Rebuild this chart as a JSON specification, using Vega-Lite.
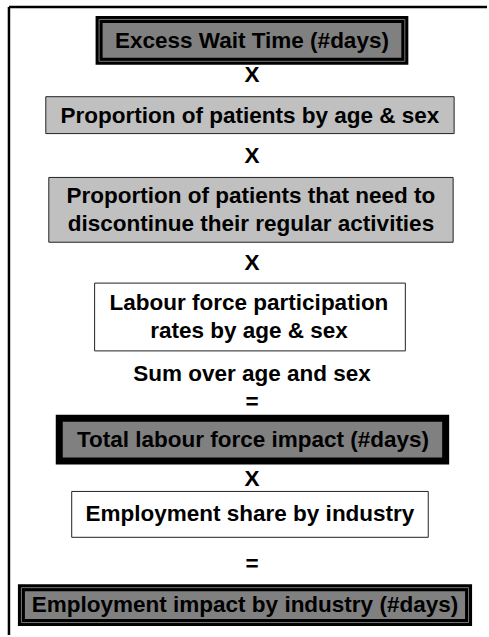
{
  "$schema": "https://vega.github.io/schema/vega-lite/v6.json",
  "width": 489,
  "height": 637,
  "padding": 0,
  "autosize": {"type": "fit", "contains": "padding"},
  "background": "white",
  "config": {"view": {"stroke": null}},
  "datasets": {
    "frame": [
      {"x1": 9, "x2": 489, "y1": 7, "y2": 7},
      {"x1": 9, "x2": 9, "y1": 7, "y2": 637}
    ],
    "heavy": [
      {"box": "Excess", "x1": 99.5, "x2": 406.5, "y1": 19.5, "y2": 61.5, "double": "yes"},
      {"box": "Total", "x1": 59.5, "x2": 447.5, "y1": 419.5, "y2": 462.5, "double": "no"},
      {"box": "EmpImpact", "x1": 21.5, "x2": 470.5, "y1": 589.5, "y2": 624.5, "double": "yes"}
    ],
    "light": [
      {"box": "PropAge", "x1": 46, "x2": 456, "y1": 97, "y2": 134, "kind": "grey"},
      {"box": "PropDisc", "x1": 49, "x2": 455, "y1": 178, "y2": 243, "kind": "grey"},
      {"box": "Labour", "x1": 95, "x2": 407, "y1": 284, "y2": 352, "kind": "white"},
      {"box": "Share", "x1": 72, "x2": 430, "y1": 493, "y2": 539, "kind": "white"}
    ],
    "labels": [
      {"label": "Excess Wait Time (#days)", "x": 253, "y": 41},
      {"label": "X", "x": 253, "y": 75},
      {"label": "Proportion of patients by age & sex", "x": 251, "y": 116},
      {"label": "X", "x": 253, "y": 156},
      {"label": "Proportion of patients that need to\ndiscontinue their regular activities", "x": 252, "y": 197},
      {"label": "X", "x": 253, "y": 264},
      {"label": "Labour force participation\nrates by age & sex", "x": 250, "y": 304},
      {"label": "Sum over age and sex", "x": 253, "y": 375},
      {"label": "=", "x": 253, "y": 403},
      {"label": "Total labour force impact (#days)", "x": 254, "y": 441},
      {"label": "X", "x": 253, "y": 481},
      {"label": "Employment share by industry", "x": 251, "y": 516},
      {"label": "=", "x": 253, "y": 566},
      {"label": "Employment impact by industry (#days)", "x": 246, "y": 607}
    ]
  },
  "layer": [
    {
      "data": {"name": "frame"},
      "mark": {"type": "rule", "color": "black", "strokeWidth": 2.5},
      "encoding": {
        "x": {"field": "x1", "type": "quantitative", "scale": {"domain": [0, 489], "nice": false, "zero": false}, "axis": null},
        "x2": {"field": "x2"},
        "y": {"field": "y1", "type": "quantitative", "scale": {"domain": [0, 637], "nice": false, "zero": false, "reverse": true}, "axis": null},
        "y2": {"field": "y2"}
      }
    },
    {
      "data": {"name": "light"},
      "mark": {"type": "rect", "stroke": "#222222", "strokeWidth": 1},
      "encoding": {
        "x": {"field": "x1", "type": "quantitative"},
        "x2": {"field": "x2"},
        "y": {"field": "y1", "type": "quantitative"},
        "y2": {"field": "y2"},
        "fill": {"field": "kind", "type": "nominal", "scale": {"domain": ["grey", "white"], "range": ["#c0c0c0", "#ffffff"]}, "legend": null}
      }
    },
    {
      "data": {"name": "heavy"},
      "mark": {"type": "rect", "fill": "#808080", "stroke": "black", "strokeWidth": 7},
      "encoding": {
        "x": {"field": "x1", "type": "quantitative"},
        "x2": {"field": "x2"},
        "y": {"field": "y1", "type": "quantitative"},
        "y2": {"field": "y2"}
      }
    },
    {
      "data": {"name": "heavy"},
      "transform": [{"filter": "datum.double === 'yes'"}],
      "mark": {"type": "rect", "fill": null, "stroke": "#777777", "strokeWidth": 1},
      "encoding": {
        "x": {"field": "x1", "type": "quantitative"},
        "x2": {"field": "x2"},
        "y": {"field": "y1", "type": "quantitative"},
        "y2": {"field": "y2"}
      }
    },
    {
      "data": {"name": "labels"},
      "mark": {"type": "text", "font": "Liberation Sans", "fontWeight": "bold", "fontSize": 22.5, "color": "black", "align": "center", "baseline": "middle", "lineBreak": "\n", "lineHeight": 28},
      "encoding": {
        "x": {"field": "x", "type": "quantitative"},
        "y": {"field": "y", "type": "quantitative"},
        "text": {"field": "label"}
      }
    }
  ]
}
